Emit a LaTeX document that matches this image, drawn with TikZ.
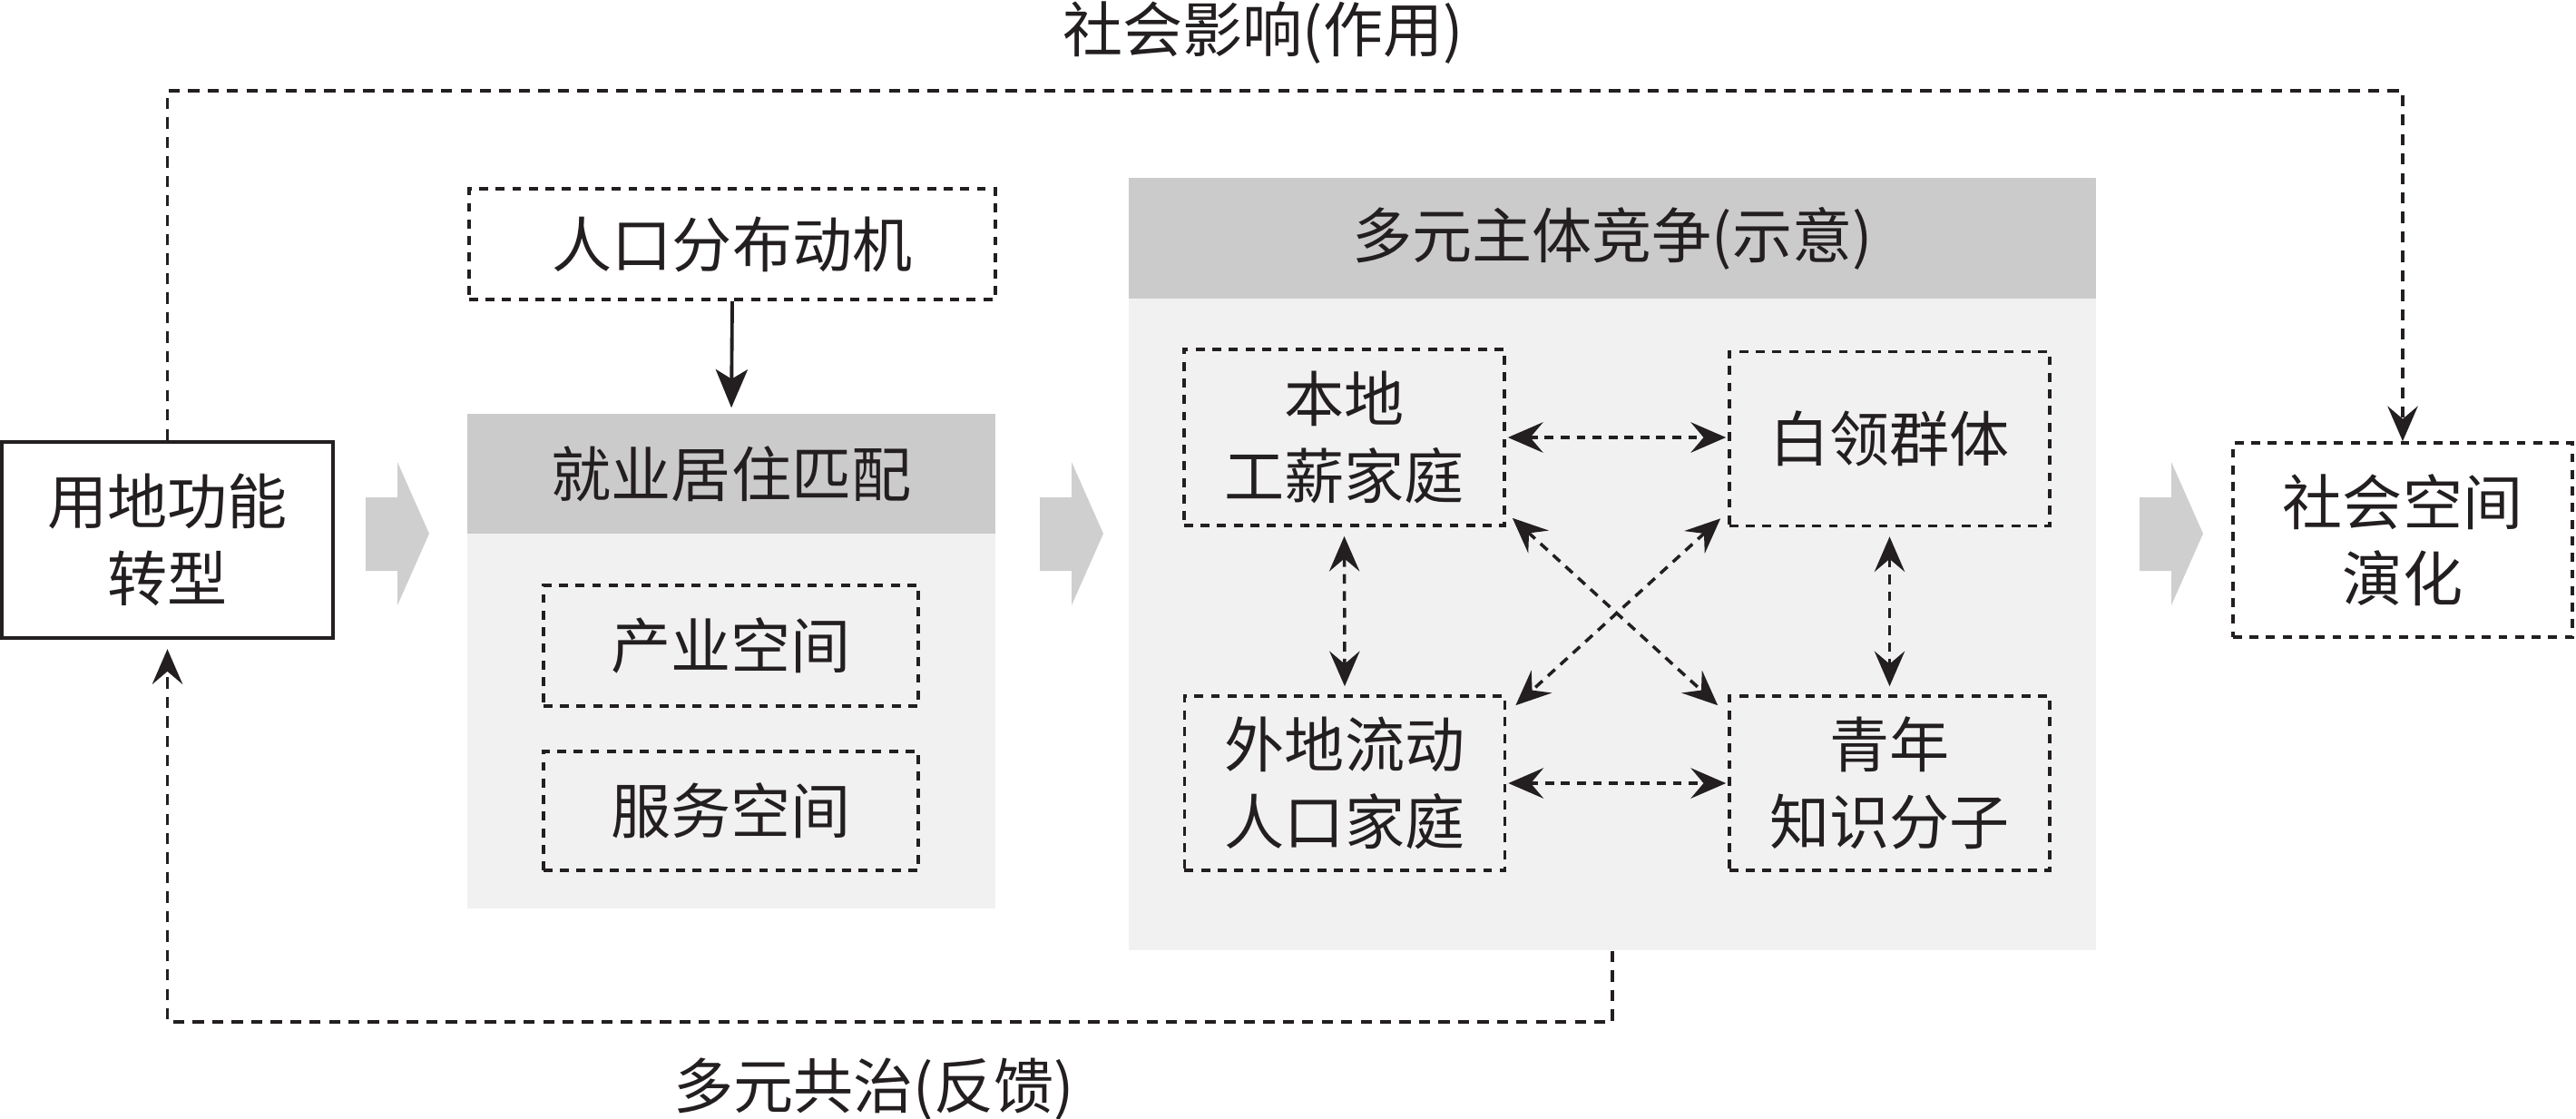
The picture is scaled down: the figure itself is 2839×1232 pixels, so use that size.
\documentclass[tikz,border=0pt]{standalone}
\usepackage{fontspec}
\newfontfamily\cjk{Noto Sans CJK SC}
\usetikzlibrary{arrows.meta}
\definecolor{ink}{RGB}{35,31,32}
\definecolor{headgray}{RGB}{204,203,204}
\definecolor{panelgray}{RGB}{241,241,241}
\definecolor{arrowgray}{RGB}{207,207,207}
\tikzset{
  dotbox/.style={draw=ink,line width=1pt,dash pattern=on 2.8pt off 2.4pt,inner sep=0pt,align=center},
  solidbox/.style={draw=ink,line width=1.2pt,inner sep=0pt,align=center},
  panel/.style={fill=panelgray,inner sep=0pt},
  panelhead/.style={fill=headgray,inner sep=0pt},
  loopline/.style={ink,line width=1.1pt,dash pattern=on 3.5pt off 2.6pt},
  linkline/.style={ink,line width=1pt,dash pattern=on 3pt off 2.3pt},
  flatlink/.style={ink,line width=1.2pt,dash pattern=on 2.8pt off 2.2pt},
}
\begin{document}
\begin{tikzpicture}[x=0.01cm,y=-0.01cm,>={Stealth[length=11pt,width=9.5pt,inset=4pt]},
  every node/.style={text=ink,font=\cjk\fontsize{18.8}{24}\selectfont}]
\useasboundingbox (0,0) rectangle (2839,1232);
\node[solidbox,minimum width=3.65cm,minimum height=2.16cm] (landuse) at (184.5,595) {用地功能\\转型};
\node[dotbox,minimum width=5.8cm,minimum height=1.22cm] (motive) at (807,269) {人口分布动机};
\node[panel,minimum width=5.82cm,minimum height=5.45cm] (matchbody) at (806,728.5) {};
\node[panelhead,minimum width=5.82cm,minimum height=1.32cm] (matchhead) at (806,522) {就业居住匹配};
\node[dotbox,minimum width=4.13cm,minimum height=1.33cm] (industry) at (805.5,711.5) {产业空间};
\node[dotbox,minimum width=4.13cm,minimum height=1.31cm] (service) at (805.5,893.5) {服务空间};
\node[panel,minimum width=10.66cm,minimum height=8.51cm] (compbody) at (1777,621.5) {};
\node[panelhead,minimum width=10.66cm,minimum height=1.33cm] (comphead) at (1777,262.5) {多元主体竞争(示意)};
\node[dotbox,minimum width=3.53cm,minimum height=1.94cm] (local) at (1481.5,482) {本地\\工薪家庭};
\node[dotbox,minimum width=3.53cm,minimum height=1.92cm] (white) at (2082.5,483.5) {白领群体};
\node[dotbox,minimum width=3.53cm,minimum height=1.92cm] (migrant) at (1482,863) {外地流动\\人口家庭};
\node[dotbox,minimum width=3.53cm,minimum height=1.92cm] (youth) at (2082.5,863) {青年\\知识分子};
\node[dotbox,minimum width=3.74cm,minimum height=2.14cm] (social) at (2648,595) {社会空间\\演化};
\node (toplbl) at (1392,36) {社会影响(作用)};
\node (botlbl) at (963,1200) {多元共治(反馈)};
\coordinate (topy) at (0,100);
\coordinate (boty) at (0,1126);
\foreach \x in {403,1146,2358}
  \fill[arrowgray] (\x,548) -- ++(35,0) -- ++(0,-39) -- ++(35,79) -- ++(-35,79) -- ++(0,-38) -- ++(-35,0) -- cycle;
\draw[->,ink,line width=1.1pt,>={Stealth[length=12pt,width=10pt,inset=3pt]},shorten >=0.06cm] (motive.south) -- (matchhead.north);
\draw[loopline,->] (landuse.north) -- (landuse.north |- topy) -| (social.north);
\draw[loopline,->,shorten >=0.1cm] (compbody.south) -- (compbody.south |- boty) -| (landuse.south);
\draw[flatlink,<->,shorten <=0.02cm,shorten >=0.02cm] (local.east) -- (white.west |- local.east);
\draw[flatlink,<->,shorten <=0.02cm,shorten >=0.02cm] (migrant.east) -- (youth.west);
\draw[linkline,<->,shorten <=0.1cm,shorten >=0.09cm] (local.south) -- (migrant.north);
\draw[linkline,<->,shorten <=0.1cm,shorten >=0.09cm] (white.south) -- (youth.north);
\draw[linkline,<->] ([shift={(7,-10)}]local.south east) -- ([shift={(-11,12)}]youth.north west);
\draw[linkline,<->] ([shift={(-8,-10)}]white.south west) -- ([shift={(10,12)}]migrant.north east);
\end{tikzpicture}
\end{document}
